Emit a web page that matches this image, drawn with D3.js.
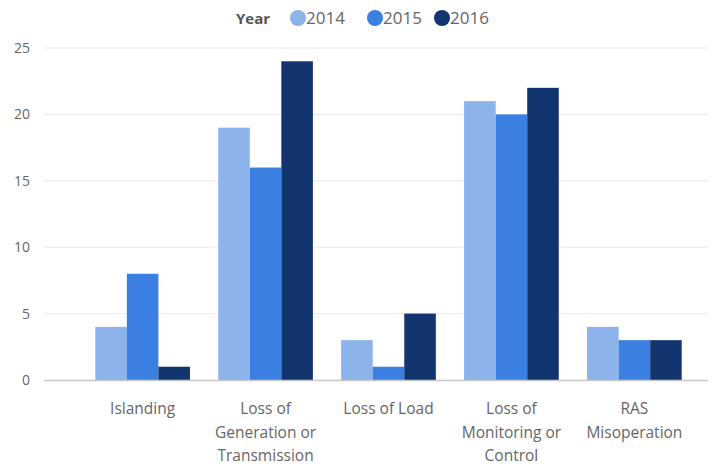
<!DOCTYPE html>
<html>
<head>
<meta charset="utf-8">
<script src="https://cdn.jsdelivr.net/npm/d3@7"></script>
<style>
  body { margin: 0; background: #fff; }
  svg text { font-family: "Open Sans", "Noto Sans", sans-serif; }
</style>
</head>
<body>
<div id="chart"></div>
<script>
// data ///////////////////////////////////
var categories = [
  ["Islanding"],
  ["Loss of", "Generation or", "Transmission"],
  ["Loss of Load"],
  ["Loss of", "Monitoring or", "Control"],
  ["RAS", "Misoperation"]
];
var years = ["2014", "2015", "2016"];
var values2014 = [4, 19, 3, 21, 4];
var values2015 = [8, 16, 1, 20, 3];
var values2016 = [1, 24, 5, 22, 3];
var yTicks = [0, 5, 10, 15, 20, 25];
var colors = ["#8db3eb", "#3b80e0", "#12356f"];

var series = [values2014, values2015, values2016];

// setup //////////////////////////////////
var width = 718, height = 466;
var svg = d3.select('#chart').append('svg')
    .attr('width', width)
    .attr('height', height);

var x = d3.scaleBand()
    .domain(d3.range(categories.length))
    .range([83, 694])
    .paddingInner(0.23)
    .paddingOuter(0.1);

var xs = d3.scaleBand()
    .domain(years)
    .range([0, x.bandwidth()]);

var y = d3.scaleLinear()
    .domain([0, 25])
    .range([380, 48]);

// gridlines + y labels
svg.append('g').selectAll('line')
    .data(yTicks.filter(function(d) { return d > 0; }))
    .enter().append('line')
    .attr('x1', 44).attr('x2', 708)
    .attr('y1', function(d) { return y(d); })
    .attr('y2', function(d) { return y(d); })
    .style('stroke', '#e9e9e9')
    .style('stroke-width', 1);

svg.append('g').selectAll('text')
    .data(yTicks)
    .enter().append('text')
    .attr('x', 30)
    .attr('y', function(d) { return y(d) + 5; })
    .style('text-anchor', 'end')
    .style('font-size', '14px')
    .style('fill', '#666')
    .text(function(d) { return d; });

// bars
var groups = svg.append('g').selectAll('g')
    .data(categories)
    .enter().append('g')
    .attr('transform', function(d, i) { return 'translate(' + x(i) + ',0)'; });

groups.selectAll('rect')
    .data(function(d, i) {
        return years.map(function(yr, j) { return {year: yr, value: series[j][i], k: j}; });
    })
    .enter().append('rect')
    .attr('x', function(d) { return xs(d.year); })
    .attr('width', xs.bandwidth())
    .attr('y', function(d) { return y(d.value); })
    .attr('height', function(d) { return y(0) - y(d.value); })
    .style('fill', function(d) { return colors[d.k]; });

// baseline
svg.append('line')
    .attr('x1', 44).attr('x2', 708)
    .attr('y1', y(0) + 0.5).attr('y2', y(0) + 0.5)
    .style('stroke', '#c8c8c8')
    .style('stroke-width', 1.5);

// x labels
groups.append('text')
    .attr('x', x.bandwidth() / 2)
    .attr('y', 414)
    .style('text-anchor', 'middle')
    .style('font-size', '15.5px')
    .style('fill', '#666')
    .selectAll('tspan')
    .data(function(d) { return d; })
    .enter().append('tspan')
    .attr('x', x.bandwidth() / 2)
    .attr('dy', function(d, i) { return i === 0 ? 0 : 23.5; })
    .text(function(d) { return d; });

// legend
var legend = svg.append('g');
legend.append('text')
    .attr('x', 236).attr('y', 24)
    .style('font-size', '15px')
    .style('font-weight', 'bold')
    .style('fill', '#555')
    .text('Year');

var legX = [298, 375, 442];
years.forEach(function(yr, j) {
    legend.append('circle')
        .attr('cx', legX[j]).attr('cy', 18).attr('r', 8)
        .style('fill', colors[j]);
    legend.append('text')
        .attr('x', legX[j] + 8).attr('y', 24)
        .style('font-size', '17px')
        .style('fill', '#666')
        .text(yr);
});
</script>
</body>
</html>
